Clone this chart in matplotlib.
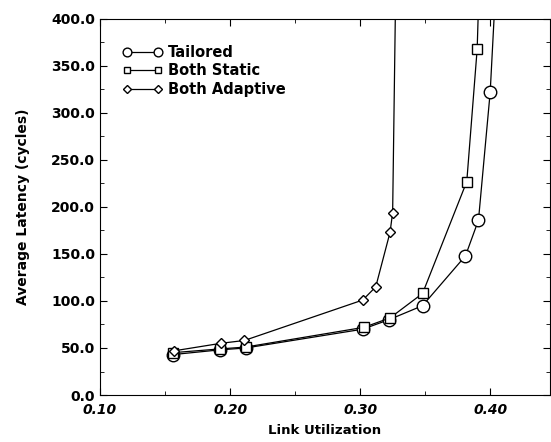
import matplotlib
matplotlib.use("Agg")
import matplotlib.pyplot as plt
from matplotlib.ticker import MultipleLocator, FormatStrFormatter

# link utilization vs latency (last point of each series runs off the top)
tailored_x = [0.156, 0.192, 0.212, 0.302, 0.322, 0.348, 0.381, 0.391, 0.400, 0.406]
tailored_y = [43, 48, 50, 70, 80, 95, 148, 186, 322, 480]

static_x = [0.156, 0.192, 0.212, 0.303, 0.323, 0.348, 0.382, 0.390, 0.392]
static_y = [45, 49, 51, 72, 82, 108, 227, 368, 460]

adaptive_x = [0.157, 0.193, 0.211, 0.302, 0.312, 0.323, 0.325, 0.329]
adaptive_y = [47, 55, 58, 101, 115, 173, 194, 600]

plt.rcParams['font.family'] = ['DejaVu Sans']

fig = plt.figure(figsize=(5.51, 4.42), dpi=100)
ax = fig.add_axes([0.1815, 0.1063, 0.8167, 0.851])

ax.plot(tailored_x, tailored_y, '-o', color='black', lw=0.9, ms=9,
        mfc='white', mec='black', mew=1.0, label='Tailored')
ax.plot(static_x, static_y, '-s', color='black', lw=0.9, ms=7,
        mfc='white', mec='black', mew=1.0, label='Both Static')
ax.plot(adaptive_x, adaptive_y, '-D', color='black', lw=0.9, ms=5.5,
        mfc='white', mec='black', mew=1.0, label='Both Adaptive')

ax.set_xlim(0.10, 0.446)
ax.set_ylim(0, 400)
ax.xaxis.set_major_locator(MultipleLocator(0.10))
ax.xaxis.set_minor_locator(MultipleLocator(0.05))
ax.yaxis.set_major_locator(MultipleLocator(50))
ax.yaxis.set_minor_locator(MultipleLocator(25))
ax.xaxis.set_major_formatter(FormatStrFormatter('%.2f'))
ax.yaxis.set_major_formatter(FormatStrFormatter('%.1f'))
ax.tick_params(which='both', direction='in', top=True, right=True)
ax.tick_params(which='major', length=5, labelsize=10)
ax.tick_params(which='minor', length=3)
ax.tick_params(axis='x', pad=6)
for lab in ax.get_xticklabels():
    lab.set_style('italic')
for lab in ax.get_xticklabels() + ax.get_yticklabels():
    lab.set_fontweight('bold')

ax.set_xlabel('Link Utilization', fontsize=9.5, fontweight='bold', labelpad=5)
ax.set_ylabel('Average Latency (cycles)', fontsize=10, fontweight='bold', labelpad=15)

ax.legend(loc='upper left', bbox_to_anchor=(0.02, 0.966), frameon=False,
          numpoints=2, markerscale=0.7, handlelength=2.75, handletextpad=0.4,
          labelspacing=0.25, prop={'size': 10.5, 'weight': 'bold'})

fig.savefig('out.png', dpi=100)
